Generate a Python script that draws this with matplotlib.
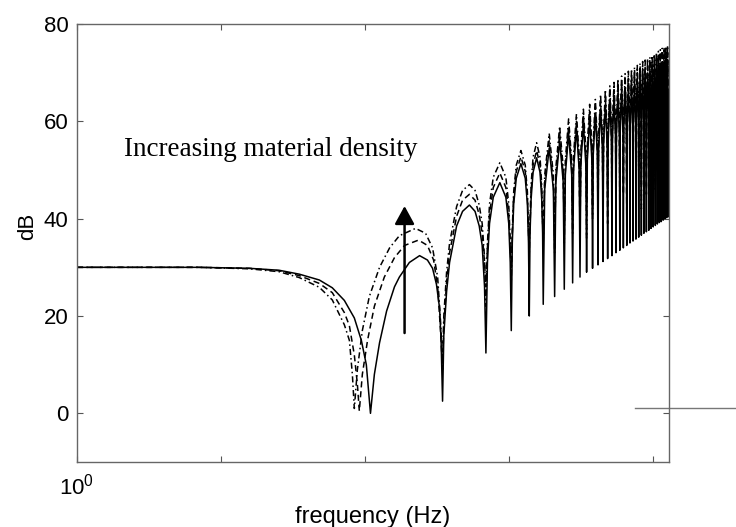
import matplotlib
matplotlib.use("Agg")
import matplotlib.pyplot as plt

plt.rcParams['font.family'] = ['Liberation Sans', 'DejaVu Sans']
plt.rcParams['mathtext.fontset'] = 'custom'
plt.rcParams['mathtext.rm'] = 'Liberation Sans'

# ---------------- data ----------------
F_END = 12880.0

# low-frequency part, one list per curve (Hz, dB)
solid_f = [1, 7, 15.7, 25.3, 34.9, 48.1, 59.2, 71.8, 84.2, 94.2, 102, 109, 116, 126, 141, 160, 173, 203, 239, 271, 294, 313, 329, 337, 345,
           352, 368, 386, 432, 475, 530, 580, 620, 650, 675, 690,
           707, 731, 776, 862, 949, 994, 1018, 1035,
           1052, 1076, 1121, 1207, 1294, 1339, 1363, 1380,
           1397, 1421, 1466, 1552, 1639, 1684, 1708, 1725]
solid_db = [30.0, 30.0, 29.8, 29.4, 28.6, 27.4, 25.8, 23.2, 19.6, 15.0, 10.0, 0.0, 8.0, 14.5, 21.0, 26.0, 28.0, 31.0, 32.4, 31.5, 29.8, 26.5, 21.6, 15.0, 2.5,
            16, 25, 31, 38.5, 41.5, 42.8, 41.5, 38.5, 34.5, 26, 12.4,
            31, 39, 44.4, 47.4, 44.4, 39, 31, 17,
            35, 43, 48.3, 51.3, 48.3, 43, 35, 20,
            37, 44, 49.5, 52.5, 49.5, 44, 37, 22.4]

dashed_f = [1, 7, 15.7, 25.3, 34.9, 48.1, 59.2, 71.8, 77.8, 84.2, 88.4, 91.2, 95.7, 104, 116, 136, 160, 188, 235, 271, 299, 319, 334, 345,
            352, 368, 386, 432, 475, 530, 580, 620, 650, 675, 690,
            707, 731, 776, 862, 949, 994, 1018, 1035,
            1052, 1076, 1121, 1207, 1294, 1339, 1363, 1380,
            1397, 1421, 1466, 1552, 1639, 1684, 1708, 1725]
dashed_db = [30.0, 30.0, 29.8, 29.3, 28.3, 26.7, 24.8, 20.7, 18.0, 12.0, 6.0, 0.5, 8.0, 15.0, 22.0, 28.0, 32.0, 34.5, 35.6, 34.5, 31.5, 26.0, 17.0, 9.0,
             18, 27, 33, 40.5, 43.8, 45.0, 43.8, 40.8, 37, 31, 26,
             34, 41, 46.4, 49.4, 46.4, 41, 34, 30,
             37, 44.5, 49.7, 52.7, 49.7, 44.5, 38, 36,
             38.5, 45.5, 51, 54, 51, 45.5, 39, 38]

dashdot_f = [1, 7, 15.7, 25.3, 34.9, 48.1, 59.2, 71.8, 77.8, 81.6, 84.2, 88.4, 95.7, 107, 126, 148, 173, 224, 263, 294, 319, 334, 345,
             352, 368, 386, 432, 475, 530, 580, 620, 650, 675, 690,
             707, 731, 776, 862, 949, 994, 1018, 1035,
             1052, 1076, 1121, 1207, 1294, 1339, 1363, 1380,
             1397, 1421, 1466, 1552, 1639, 1684, 1708, 1725]
dashdot_db = [30.0, 30.0, 29.7, 29.1, 27.9, 25.9, 23.3, 18.2, 15.0, 8.0, 1.0, 9.0, 17.0, 24.0, 30.0, 34.0, 36.5, 38.0, 37.0, 34.0, 28.0, 19.0, 11.0,
              20, 29, 35, 42.5, 45.8, 47.0, 45.8, 42.8, 39, 32, 22,
              35, 43, 48.5, 51.5, 48.5, 43, 35.5, 27,
              38, 45.5, 51, 54, 51, 45.5, 37, 33,
              40, 47, 52.6, 55.6, 52.6, 47, 40, 35]

# dense high-frequency part (shared frequencies): each hump = left shoulder, top, right shoulder, notch
shoulder_l_hz = [1766, 2111, 2456, 2801, 3146, 3491, 3836, 4181, 4526, 4871, 5216, 5561, 5906, 6251, 6596, 6941,
                 7286, 7631, 7976, 8321, 8666, 9011, 9356, 9701, 10046, 10391, 10736, 11081, 11426, 11771, 12116, 12461]
peak_hz = [1898, 2243, 2588, 2933, 3278, 3623, 3968, 4313, 4658, 5003, 5348, 5693, 6038, 6383, 6728, 7073,
           7418, 7763, 8108, 8453, 8798, 9143, 9488, 9833, 10178, 10523, 10868, 11213, 11558, 11903, 12248, 12593]
shoulder_r_hz = [2029, 2374, 2719, 3064, 3409, 3754, 4099, 4444, 4789, 5134, 5479, 5824, 6169, 6514, 6859, 7204,
                 7549, 7894, 8239, 8584, 8929, 9274, 9619, 9964, 10309, 10654, 10999, 11344, 11689, 12034, 12379, 12724]
notch_hz = [2070, 2415, 2760, 3105, 3450, 3795, 4140, 4485, 4830, 5175, 5520, 5865, 6210, 6555, 6900, 7245,
            7590, 7935, 8280, 8625, 8970, 9315, 9660, 10005, 10350, 10695, 11040, 11385, 11730, 12075, 12420, 12765]

peak_solid = [54.5, 56.0, 57.5, 58.5, 59.5, 60.5, 61.5, 62.5, 63.5, 64.3, 65.0, 65.7, 66.3, 66.8, 67.3, 67.7,
              68.1, 68.5, 68.9, 69.3, 69.6, 69.9, 70.2, 70.5, 70.8, 71.1, 71.4, 71.7, 72.0, 72.2, 72.4, 72.6]
peak_dashed = [56.0, 57.5, 59.0, 60.0, 61.0, 62.0, 63.0, 64.0, 65.0, 65.8, 66.5, 67.2, 67.8, 68.3, 68.8, 69.2,
               69.6, 70.0, 70.4, 70.8, 71.1, 71.4, 71.7, 72.0, 72.3, 72.6, 72.9, 73.2, 73.5, 73.7, 73.9, 74.1]
peak_dashdot = [57.5, 59.0, 60.5, 61.5, 62.5, 63.5, 64.5, 65.5, 66.5, 67.3, 68.0, 68.7, 69.3, 69.8, 70.3, 70.7,
                71.1, 71.5, 71.9, 72.3, 72.6, 72.9, 73.2, 73.5, 73.8, 74.1, 74.4, 74.7, 75.0, 75.2, 75.4, 75.6]

shoulder_solid = [46.0, 47.5, 49.0, 50.0, 51.0, 52.0, 53.0, 54.0, 55.0, 55.8, 56.5, 57.2, 57.8, 58.3, 58.8, 59.2,
                  59.6, 60.0, 60.4, 60.8, 61.1, 61.4, 61.7, 62.0, 62.3, 62.6, 62.9, 63.2, 63.5, 63.7, 63.9, 64.1]
shoulder_dashed = [47.5, 49.0, 50.5, 51.5, 52.5, 53.5, 54.5, 55.5, 56.5, 57.3, 58.0, 58.7, 59.3, 59.8, 60.3, 60.7,
                   61.1, 61.5, 61.9, 62.3, 62.6, 62.9, 63.2, 63.5, 63.8, 64.1, 64.4, 64.7, 65.0, 65.2, 65.4, 65.6]
shoulder_dashdot = [49.0, 50.5, 52.0, 53.0, 54.0, 55.0, 56.0, 57.0, 58.0, 58.8, 59.5, 60.2, 60.8, 61.3, 61.8, 62.2,
                    62.6, 63.0, 63.4, 63.8, 64.1, 64.4, 64.7, 65.0, 65.3, 65.6, 65.9, 66.2, 66.5, 66.7, 66.9, 67.1]

notch_solid = [24.0, 25.5, 26.8, 28.0, 29.0, 29.8, 30.5, 31.2, 31.8, 32.4, 33.0, 33.5, 34.0, 34.5, 35.0, 35.4,
               35.8, 36.2, 36.6, 37.0, 37.3, 37.6, 38.0, 38.3, 38.6, 38.9, 39.2, 39.4, 39.7, 40.0, 40.2, 40.4]
notch_dashed = [36, 38, 41, 37, 44, 40, 46, 42, 39, 47, 43, 48, 45, 41, 50, 46,
                44, 51, 47, 49, 45, 52, 48, 50, 46, 53, 49, 51, 48, 54, 50, 52]
notch_dashdot = [33, 35, 37, 40, 36, 42, 38, 41, 44, 39, 45, 42, 47, 44, 43, 48,
                 45, 50, 42, 47, 51, 46, 49, 53, 47, 50, 52, 48, 55, 49, 53, 51]

end_solid, end_dashed, end_dashdot = 55.0, 58.0, 60.0

# stray horizontal trace at right edge of the original image
stray_f = [7480, 37750]
stray_db = [1.0, 1.0]

# annotation
arrow_f = 188
arrow_db = (16.5, 42.6)
label_text = "Increasing material density"


def assemble(f_low, db_low, sh_db, peaks, notches, last):
    f = list(f_low)
    d = list(db_low)
    for i in range(len(peak_hz)):
        f += [shoulder_l_hz[i], peak_hz[i], shoulder_r_hz[i], notch_hz[i]]
        d += [sh_db[i], peaks[i], sh_db[i], notches[i]]
    f.append(F_END)
    d.append(last)
    return f, d


fig = plt.figure(figsize=(7.36, 5.27), dpi=100)
ax = fig.add_axes([77 / 736, (527 - 462) / 527, (669 - 77) / 736, (462 - 24) / 527])

LW = 1.1
f, d = assemble(dashdot_f, dashdot_db, shoulder_dashdot, peak_dashdot, notch_dashdot, end_dashdot)
ax.plot(f, d, color='black', lw=LW, linestyle=(0, (4, 2, 1, 2)))
f, d = assemble(dashed_f, dashed_db, shoulder_dashed, peak_dashed, notch_dashed, end_dashed)
ax.plot(f, d, color='black', lw=LW, linestyle=(0, (4, 2.5)))
f, d = assemble(solid_f, solid_db, shoulder_solid, peak_solid, notch_solid, end_solid)
ax.plot(f, d, color='black', lw=LW, linestyle='-')

ax.plot(stray_f, stray_db, color='#777777', lw=1.0, clip_on=False)

ax.set_xscale('log')
ax.set_xlim(1, F_END)
ax.set_ylim(-10, 80)
ax.set_xticks([1, 10, 100, 1000, 10000])
ax.set_xticklabels([r'$\mathregular{10^0}$', '', '', '', ''])
ax.xaxis.set_minor_locator(matplotlib.ticker.NullLocator())
ax.set_yticks([0, 20, 40, 60, 80])
ax.set_yticklabels(['0', '20', '40', '60', '80'])

ax.tick_params(axis='both', which='major', direction='in', length=4.5, width=0.8,
               color='#555555', labelsize=16, top=True, right=True)
ax.tick_params(axis='y', pad=6)
ax.tick_params(axis='x', pad=8)
for s in ax.spines.values():
    s.set_color('#666666')
    s.set_linewidth(1.0)

ax.set_xlabel('frequency (Hz)', fontsize=17)
ax.xaxis.set_label_coords(0.5, -0.100)
ax.set_ylabel('dB', fontsize=16)
ax.yaxis.label.set_va('center')
ax.yaxis.set_label_coords(-0.084, 0.539)

ax.annotate('', xy=(arrow_f, arrow_db[1]), xytext=(arrow_f, arrow_db[0]),
            arrowprops=dict(arrowstyle='-|>,head_length=0.55,head_width=0.3', lw=1.8,
                            color='black', shrinkA=0, shrinkB=0, mutation_scale=20))
ax.text(2.11, 52.9, label_text, fontsize=19.5, family=['Liberation Serif', 'DejaVu Serif'],
        va='baseline', ha='left')

fig.savefig('out.png', dpi=100)
